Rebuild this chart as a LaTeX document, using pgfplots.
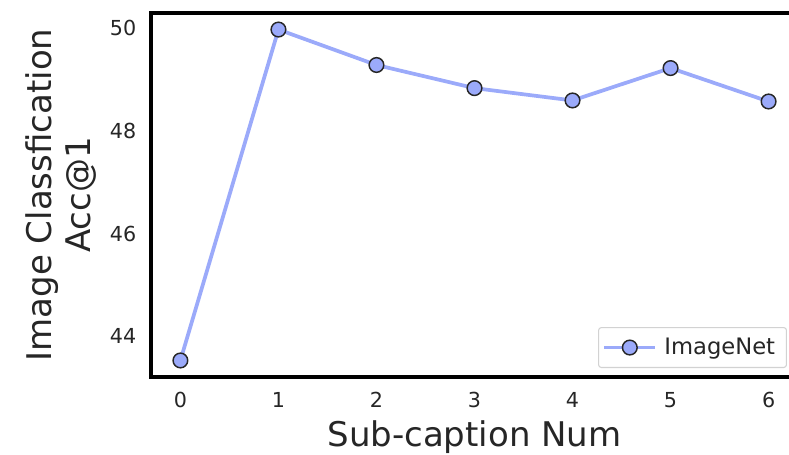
\documentclass[border=0pt]{standalone}
\usepackage{fontspec}
\setmainfont{DejaVu Sans}
\usepackage{pgfplots}
\pgfplotsset{compat=1.18}
\definecolor{lineblue}{RGB}{155,170,250}
\definecolor{txt}{RGB}{38,38,38}
\definecolor{legframe}{RGB}{210,210,210}
\begin{document}
\begin{tikzpicture}
\begin{axis}[
  scale only axis,
  width=485.25pt, height=273pt,
  xmin=-0.3, xmax=6.3,
  ymin=43.208, ymax=50.292,
  xtick={0,1,2,3,4,5,6},
  ytick={44,46,48,50},
  major tick length=0pt,
  axis line style={black, line width=2.3pt},
  /pgf/number format/assume math mode=true,
  tick label style={font=\fontsize{15.5}{18}\selectfont, text=txt},
  xticklabel style={yshift=-7.8pt},
  yticklabel style={xshift=-7.5pt},
  xlabel={Sub-caption Num},
  ylabel={Image Classfication\\Acc@1},
  label style={font=\fontsize{25.5}{29.25}\selectfont, text=txt},
  xlabel style={at={(axis description cs:0.5,-0.118)}, anchor=north, inner sep=0pt},
  ylabel style={at={(axis description cs:-0.0835,0.5)}, anchor=south, inner sep=0pt, align=center},
  legend style={at={([xshift=-8.25pt,yshift=6.75pt]axis description cs:1,0)}, anchor=south east,
    draw=legframe, line width=0.8pt, rounded corners=2pt, fill=white,
    font=\fontsize{17}{20}\selectfont, text=txt,
    inner xsep=3pt, inner ysep=5pt,
    nodes={inner ysep=3pt, inner xsep=5.5pt}},
  legend image code/.code={%
    \draw[mark repeat=2,mark phase=2,#1] plot coordinates {(0pt,0pt) (19pt,0pt) (38pt,0pt)};},
  legend cell align=left,
]
\addplot[color=lineblue, line width=2.8pt, mark=*, mark size=5.5pt,
  mark options={fill=lineblue, draw=black!85, line width=1.1pt}]
  coordinates {(0,43.53) (1,49.97) (2,49.28) (3,48.83) (4,48.59) (5,49.22) (6,48.57)};
\addlegendentry{ImageNet}
\end{axis}
\pgfresetboundingbox
\path[use as bounding box] ([xshift=-113.25pt,yshift=-57.75pt]current axis.south west) rectangle ([xshift=478.5pt,yshift=9.75pt]current axis.north west);
\end{tikzpicture}
\end{document}
